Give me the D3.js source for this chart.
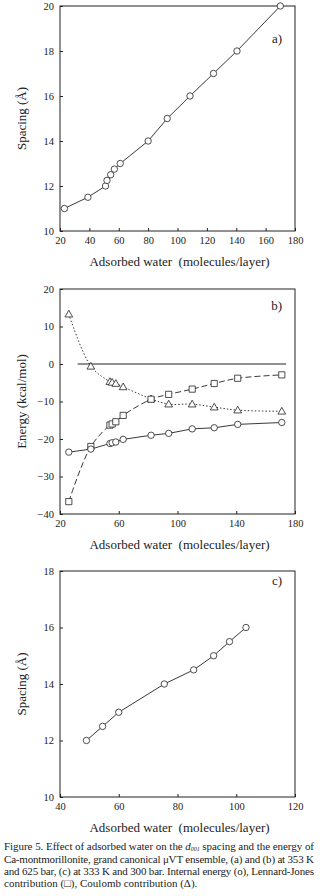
<!DOCTYPE html>
<html>
<head>
<meta charset="utf-8">
<script src="https://cdn.jsdelivr.net/npm/d3@7"></script>
<style>
  html, body { margin: 0; padding: 0; background: #fff; }
  svg { display: block; }
</style>
</head>
<body>
<div id="chart"></div>
<script>
// panel a: d001 spacing vs adsorbed water (353 K, 625 bar)
const waterA = [23, 39, 51, 52, 54.5, 57, 61, 80, 93, 108.5, 124.5, 140.5, 170];
const spacingA = [11, 11.5, 12, 12.25, 12.5, 12.75, 13, 14, 15, 16, 17, 18, 20];

// panel b: energies (kcal/mol)
const waterB = [26, 41, 54, 55.5, 58, 63, 82, 94, 110, 125, 141, 171];
const internalB = [-23.5, -22.7, -21.2, -21.0, -20.8, -20.1, -19.0, -18.5, -17.3, -17.0, -16.1, -15.6];
const ljB = [-36.7, -22.0, -16.3, -16.0, -15.4, -13.7, -9.4, -8.1, -6.7, -5.2, -3.8, -2.9];
const coulombB = [13.3, -0.6, -4.7, -4.9, -5.2, -6.1, -9.3, -10.7, -10.7, -11.5, -12.3, -12.6];
const zeroLineX = [32, 174];

// panel c: spacing at 333 K, 300 bar
const waterC = [49, 54.5, 60, 75.5, 85.5, 92.3, 97.7, 103.3];
const spacingC = [12, 12.5, 13, 14, 14.5, 15, 15.5, 16];

const xTicksA = [20, 40, 60, 80, 100, 120, 140, 160, 180];
const yTicksA = [10, 12, 14, 16, 18, 20];
const xTicksB = [20, 60, 100, 140, 180];
const yTicksB = [-40, -30, -20, -10, 0, 10, 20];
const xTicksC = [40, 60, 80, 100, 120];
const yTicksC = [10, 12, 14, 16, 18];

const xTitle = 'Adsorbed water  (molecules/layer)';

const W = 322, H = 896;
const FONT = '"Liberation Serif", "Times New Roman", serif';
const ink = '#222';

const svg = d3.select('#chart').append('svg')
  .attr('width', W)
  .attr('height', H)
  .attr('font-family', FONT);

function makePanel(opts) {
  const left = 60, right = 295;
  const g = svg.append('g');
  const x = d3.scaleLinear().domain(opts.xDomain).range([left, right]);
  const y = d3.scaleLinear().domain(opts.yDomain).range([opts.bottom, opts.top]);

  g.append('g')
    .attr('transform', `translate(0,${opts.bottom})`)
    .call(d3.axisBottom(x).tickValues(opts.xTicks).tickSizeInner(-3).tickSizeOuter(0).tickPadding(6))
    .attr('font-family', FONT).attr('font-size', 10.5)
    .call(a => a.select('.domain').remove())
    .call(a => a.selectAll('line').attr('stroke', ink))
    .call(a => a.selectAll('text').attr('fill', ink));

  g.append('g')
    .attr('transform', `translate(${left},0)`)
    .call(d3.axisLeft(y).tickValues(opts.yTicks).tickSizeInner(-3).tickSizeOuter(0).tickPadding(6))
    .attr('font-family', FONT).attr('font-size', 10.5)
    .call(a => a.select('.domain').remove())
    .call(a => a.selectAll('line').attr('stroke', ink))
    .call(a => a.selectAll('text').attr('fill', ink));

  g.append('rect')
    .attr('x', left).attr('y', opts.top)
    .attr('width', right - left).attr('height', opts.bottom - opts.top)
    .attr('fill', 'none').attr('stroke', ink).attr('stroke-width', 1);

  g.append('text')
    .attr('x', (left + right) / 2 + 2)
    .attr('y', opts.bottom + 35)
    .attr('text-anchor', 'middle')
    .attr('font-size', 13)
    .attr('fill', ink)
    .style('white-space', 'pre')
    .text(xTitle);

  const cy = (opts.top + opts.bottom) / 2;
  g.append('text')
    .attr('transform', `translate(26,${cy}) rotate(-90)`)
    .attr('text-anchor', 'middle')
    .attr('font-size', 13)
    .attr('fill', ink)
    .text(opts.yTitle);

  g.append('text')
    .attr('x', 282).attr('y', opts.top + opts.labelDy)
    .attr('text-anchor', 'end')
    .attr('font-size', 13)
    .attr('fill', ink)
    .text(opts.label);

  return { g, x, y };
}

function drawSeries(p, xs, ys, shape, dash, curve) {
  const pts = xs.map((v, i) => [v, ys[i]]);
  const line = d3.line()
    .x(d => p.x(d[0]))
    .y(d => p.y(d[1]))
    .curve(curve || d3.curveLinear);
  p.g.append('path')
    .datum(pts)
    .attr('fill', 'none')
    .attr('stroke', ink)
    .attr('stroke-width', 0.9)
    .attr('stroke-dasharray', dash)
    .attr('d', line);

  const sym = shape === 'circle' ? d3.symbolCircle
    : shape === 'square' ? d3.symbolSquare : d3.symbolTriangle;
  const size = shape === 'circle' ? 32 : shape === 'square' ? 38 : 26;
  p.g.append('g').selectAll('path')
    .data(pts)
    .join('path')
    .attr('transform', d => `translate(${p.x(d[0])},${p.y(d[1]) + (shape === 'triangle' ? 0.6 : 0)})`)
    .attr('d', d3.symbol(sym, size))
    .attr('fill', '#fff')
    .attr('stroke', ink)
    .attr('stroke-width', 0.8);
}

// a)
const pa = makePanel({
  top: 6, bottom: 231, xDomain: [20, 180], yDomain: [10, 20],
  xTicks: xTicksA, yTicks: yTicksA, yTitle: 'Spacing (Å)', label: 'a)', labelDy: 37
});
drawSeries(pa, waterA, spacingA, 'circle', null);

// b)
const pb = makePanel({
  top: 289, bottom: 514, xDomain: [20, 180], yDomain: [-40, 20],
  xTicks: xTicksB, yTicks: yTicksB, yTitle: 'Energy (kcal/mol)', label: 'b)', labelDy: 21
});
pb.g.append('line')
  .attr('x1', pb.x(zeroLineX[0])).attr('x2', pb.x(zeroLineX[1]))
  .attr('y1', pb.y(0)).attr('y2', pb.y(0))
  .attr('stroke', ink).attr('stroke-width', 1);
drawSeries(pb, waterB, coulombB, 'triangle', '1.5,2', d3.curveCatmullRom);
drawSeries(pb, waterB, ljB, 'square', '6,3', d3.curveCatmullRom);
drawSeries(pb, waterB, internalB, 'circle', null);

// c)
const pc = makePanel({
  top: 571, bottom: 797, xDomain: [40, 120], yDomain: [10, 18],
  xTicks: xTicksC, yTicks: yTicksC, yTitle: 'Spacing (Å)', label: 'c)', labelDy: 14
});
drawSeries(pc, waterC, spacingC, 'circle', null);

// caption (justified, so the first three lines are stretched to the same width)
const capW = 310;
const cap = svg.append('text')
  .attr('font-size', 11)
  .attr('fill', ink);
const l1 = cap.append('tspan').attr('x', 4).attr('y', 850)
  .attr('textLength', capW).attr('lengthAdjust', 'spacing');
l1.append('tspan').text('Figure 5. Effect of adsorbed water on the ');
l1.append('tspan').attr('font-style', 'italic').text('d');
l1.append('tspan').attr('font-style', 'italic').attr('font-size', 6).attr('dy', 1).text('001');
l1.append('tspan').attr('dy', -1).text(' spacing and the energy of');
cap.append('tspan').attr('x', 4).attr('y', 863)
  .attr('textLength', capW).attr('lengthAdjust', 'spacing')
  .text('Ca-montmorillonite, grand canonical μVT ensemble, (a) and (b) at 353 K');
cap.append('tspan').attr('x', 4).attr('y', 875)
  .attr('textLength', capW).attr('lengthAdjust', 'spacing')
  .text('and 625 bar, (c) at 333 K and 300 bar. Internal energy (o), Lennard-Jones');
cap.append('tspan').attr('x', 4).attr('y', 887)
  .text('contribution (□), Coulomb contribution (Δ).');
</script>
</body>
</html>
